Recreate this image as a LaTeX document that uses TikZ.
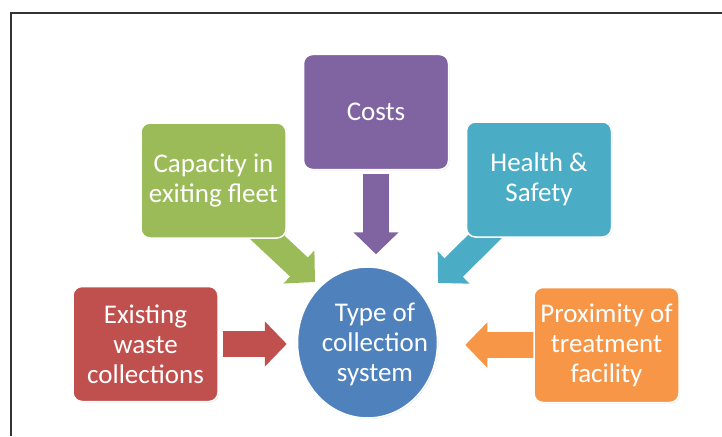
\documentclass[tikz,border=0pt]{standalone}
\usepackage{fontspec}
\setmainfont{Carlito}
\usetikzlibrary{arrows.meta,shapes.geometric,shadows,calc}
\pgfdeclarelayer{background}
\pgfsetlayers{background,main}
\definecolor{cred}{HTML}{C0504D}
\definecolor{cgreen}{HTML}{9BBB59}
\definecolor{cpurple}{HTML}{8064A2}
\definecolor{ccyan}{HTML}{4BACC6}
\definecolor{corange}{HTML}{F79646}
\definecolor{cblue}{HTML}{4F81BD}
\definecolor{frameclr}{HTML}{333333}
\begin{document}
\begin{tikzpicture}[x=1pt,y=-1pt,
  lbl/.style={text=white, align=center, font=\fontsize{27}{30}\selectfont},
  box/.style={lbl, draw=white, line width=1.5pt, rounded corners=9pt,
    minimum width=145pt, minimum height=115pt, inner sep=0pt,
    drop shadow={shadow xshift=1pt, shadow yshift=-1pt, opacity=0.18}},
  hubshape/.style={ellipse, draw=white, line width=1.5pt, inner sep=0pt,
    minimum width=140pt, minimum height=151pt,
    drop shadow={shadow xshift=1pt, shadow yshift=-1pt, opacity=0.18}},
  blockarrow/.style={line width=26pt, -{Triangle[width=44pt,length=22pt]}}]
\useasboundingbox (0,0) rectangle (722,436);

\node[box, fill=cpurple] (costs) at (376,112) {Costs};
\node[box, fill=cgreen] (cap) at (213.5,180.5) {Capacity in\\exiting fleet};
\node[box, fill=ccyan] (health) at (539,179.5) {Health \&\\Safety};
\node[box, fill=cred] (exist) at (145.5,344) {Existing\\waste\\collections};
\node[box, fill=corange] (prox) at (606.5,345) {Proximity of\\treatment\\facility};
\node[hubshape, fill=cblue] (hub) at (367.5,342.5) {};
\node[lbl] (hubtext) at (375,344) {Type of\\collection\\system};
\draw[frameclr, line width=1.5pt] (11,436) -- (11,13) -- (722,13);

\begin{pgfonlayer}{background}
\fill[white] (0,0) rectangle (722,436);
\draw[blockarrow, cred, shorten <=4pt, shorten >=10pt] (exist.east) -- (exist.east -| hub.west);
\draw[blockarrow, corange, shorten <=-2pt, shorten >=27pt] (prox.west) -- (prox.west -| hub.east);
\draw[blockarrow, cpurple, shorten <=4pt, shorten >=12pt] (costs.south) -- (costs.south |- hub.north);
\draw[blockarrow, cgreen, shorten <=-14pt] ([xshift=-18pt]cap.south east) -- ([shift={(-52.5,-60.5)}]hub.center);
\draw[blockarrow, ccyan, shorten <=-14pt] ([xshift=18pt]health.south west) -- ([shift={(70.5,-59.5)}]hub.center);
\end{pgfonlayer}
\end{tikzpicture}
\end{document}
